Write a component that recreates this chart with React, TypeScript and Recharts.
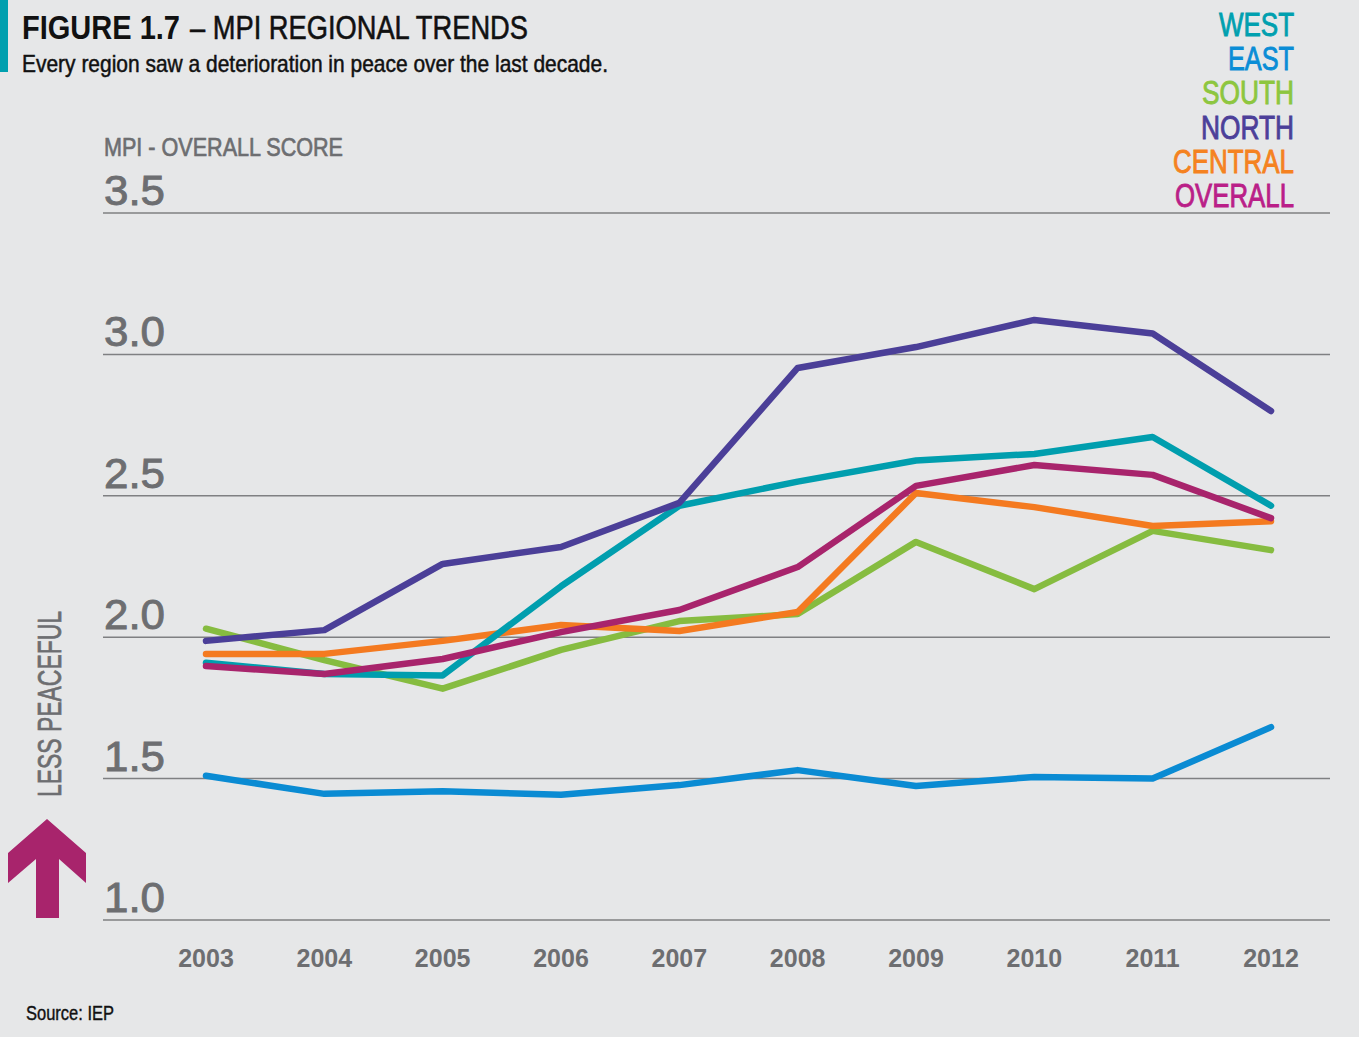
import React from 'react';
import { LineChart, Line, XAxis, YAxis, CartesianGrid } from 'recharts';

const years = ['2003', '2004', '2005', '2006', '2007', '2008', '2009', '2010', '2011', '2012'];

const west = [1.91, 1.87, 1.865, 2.18, 2.465, 2.55, 2.625, 2.648, 2.708, 2.465];
const east = [1.51, 1.446, 1.455, 1.443, 1.477, 1.53, 1.474, 1.506, 1.5, 1.682];
const south = [2.03, 1.919, 1.818, 1.955, 2.057, 2.082, 2.337, 2.17, 2.376, 2.308];
const north = [1.987, 2.025, 2.259, 2.319, 2.475, 2.952, 3.026, 3.122, 3.074, 2.8];
const central = [1.941, 1.941, 1.987, 2.043, 2.022, 2.089, 2.51, 2.46, 2.393, 2.41];
const overall = [1.898, 1.87, 1.923, 2.018, 2.096, 2.248, 2.535, 2.609, 2.574, 2.421];

const yTicks = [1.0, 1.5, 2.0, 2.5, 3.0, 3.5];

const COLORS = {
  west: '#009EAE',
  east: '#0A8BD3',
  south: '#86BC40',
  north: '#4B3F98',
  central: '#F47A20',
  overall: '#A8246C',
};

// legend labels, colours and their measured widths in the reference
const legendLabels = ['WEST', 'EAST', 'SOUTH', 'NORTH', 'CENTRAL', 'OVERALL'];
const legendColors = ['#00A0AF', '#0A8DD6', '#8DC63F', '#4C3F99', '#F58220', '#BA1F88'];
const legendWidths = [75, 66, 92, 93, 121, 119];

const data = years.map((year, i) => ({
  year,
  west: west[i],
  east: east[i],
  south: south[i],
  north: north[i],
  central: central[i],
  overall: overall[i],
}));

const FONT = '"Liberation Sans", Arial, sans-serif';
const GRAY = '#6D6E71';

const YTick = (props: any) => {
  const { y, payload } = props;
  return (
    <text
      x={104}
      y={y - 8}
      fontSize={42}
      fill={GRAY}
      stroke={GRAY}
      strokeWidth={0.9}
      fontFamily={FONT}
      textAnchor="start"
      textLength={61}
      lengthAdjust="spacingAndGlyphs"
    >
      {payload.value.toFixed(1)}
    </text>
  );
};

const XTick = (props: any) => {
  const { x, payload } = props;
  return (
    <text x={x} y={967} fontSize={25} fontWeight="bold" fill={GRAY} fontFamily={FONT} textAnchor="middle">
      {payload.value}
    </text>
  );
};

const series: (keyof typeof COLORS)[] = ['south', 'east', 'central', 'west', 'overall', 'north'];

export default function App() {
  return (
    <div style={{ position: 'absolute', left: 0, top: 0, width: 1359, height: 1037, background: '#E6E7E8', overflow: 'hidden' }}>
      <div style={{ position: 'absolute', left: 0, top: 0 }}>
        <LineChart width={1359} height={1037} data={data} margin={{ top: 213, right: 29, bottom: 0, left: 0 }}>
          <CartesianGrid vertical={false} stroke="#7F8082" strokeWidth={1.5} />
          <XAxis
            dataKey="year"
            axisLine={false}
            tickLine={false}
            height={117}
            padding={{ left: 103, right: 59 }}
            tick={<XTick />}
            interval={0}
          />
          <YAxis
            type="number"
            domain={[1, 3.5]}
            ticks={yTicks}
            width={103}
            axisLine={false}
            tickLine={false}
            tick={<YTick />}
          />
          {series.map((key) => (
            <Line
              key={key}
              type="linear"
              dataKey={key}
              stroke={COLORS[key]}
              strokeWidth={6.5}
              strokeLinecap="round"
              strokeLinejoin="round"
              dot={false}
              activeDot={false}
              isAnimationActive={false}
            />
          ))}
        </LineChart>
      </div>
      <svg style={{ position: 'absolute', left: 0, top: 0 }} width={1359} height={1037}>
        <rect x={0} y={0} width={8} height={72} fill="#00A0AF" />
        <text x={22} y={39} fontFamily={FONT} fontSize={34} fontWeight="bold" fill="#111" textLength={158} lengthAdjust="spacingAndGlyphs">
          FIGURE 1.7
        </text>
        <text x={190} y={39} fontFamily={FONT} fontSize={34} fill="#111" stroke="#111" strokeWidth={0.6} textLength={338} lengthAdjust="spacingAndGlyphs">
          – MPI REGIONAL TRENDS
        </text>
        <text x={22} y={72} fontFamily={FONT} fontSize={24} fill="#111" stroke="#111" strokeWidth={0.5} textLength={586} lengthAdjust="spacingAndGlyphs">
          Every region saw a deterioration in peace over the last decade.
        </text>
        <text x={104} y={156} fontFamily={FONT} fontSize={26} fill={GRAY} stroke={GRAY} strokeWidth={0.7} textLength={239} lengthAdjust="spacingAndGlyphs">
          MPI - OVERALL SCORE
        </text>
        {legendLabels.map((label, i) => (
          <text
            key={label}
            x={1294 - legendWidths[i]}
            y={36 + i * 34.2}
            fontFamily={FONT}
            fontSize={33}
            fill={legendColors[i]}
            stroke={legendColors[i]}
            strokeWidth={0.9}
            textLength={legendWidths[i]}
            lengthAdjust="spacingAndGlyphs"
          >
            {label}
          </text>
        ))}
        <text
          x={0}
          y={0}
          transform="translate(61 797) rotate(-90)"
          fontFamily={FONT}
          fontSize={33}
          fill={GRAY}
          stroke={GRAY}
          strokeWidth={0.7}
          textLength={186}
          lengthAdjust="spacingAndGlyphs"
        >
          LESS PEACEFUL
        </text>
        <polygon points="47,819 86,853 86,883 59,859 59,918 36,918 36,859 8,883 8,853" fill="#A8246C" />
        <text x={26} y={1020} fontFamily={FONT} fontSize={20} fill="#111" stroke="#111" strokeWidth={0.4} textLength={88} lengthAdjust="spacingAndGlyphs">
          Source: IEP
        </text>
      </svg>
    </div>
  );
}
